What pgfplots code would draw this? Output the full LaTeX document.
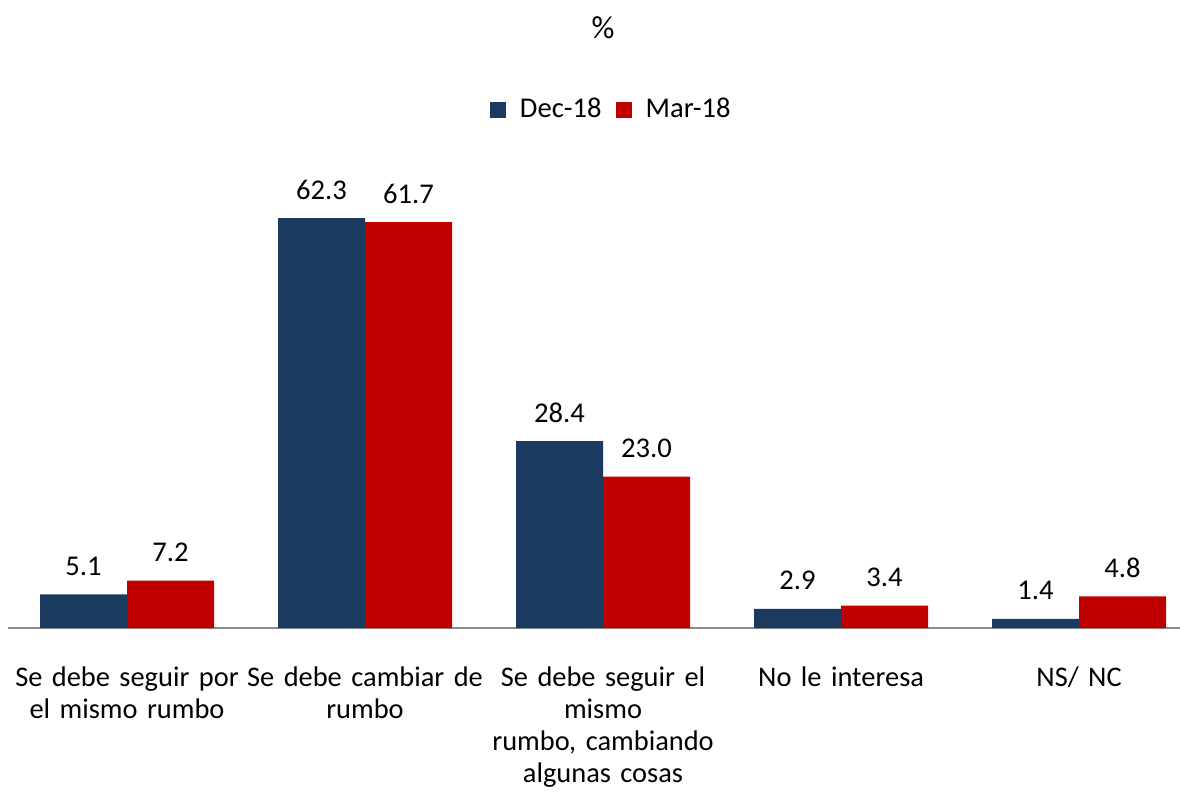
\documentclass[border=0pt]{standalone}
\usepackage{pgfplots}
\pgfplotsset{compat=1.18}
\usepackage{fontspec}
\setmainfont{Carlito}
\definecolor{decblue}{HTML}{1B3A5F}
\definecolor{marred}{HTML}{C00000}
\definecolor{axisgray}{HTML}{8C8C8C}
\begin{document}
\fontsize{14}{16}\selectfont
\begin{tikzpicture}
\useasboundingbox (-4pt,-85.5pt) rectangle (586pt,314pt);
\begin{axis}[
  scale only axis,
  width=586.7pt, height=230.3pt,
  xmin=-0.5, xmax=4.43,
  ymin=0, ymax=70,
  ybar=0pt, bar width=43.5pt,
  axis x line=bottom, axis y line=none,
  x axis line style={-, draw=axisgray, line width=1pt},
  xtick={0,1,2,3,4},
  xticklabels={{Se debe seguir por\\el mismo rumbo},{Se debe cambiar de\\rumbo},{Se debe seguir el\\mismo\\rumbo, cambiando\\algunas cosas},{No le interesa},{NS/ NC}},
  xticklabel style={text width=120pt, align=center, anchor=north, yshift=-14.5pt, font=\fontsize{14.2}{16}\selectfont},
  major tick length=0pt,
  nodes near coords,
  every node near coord/.append style={font=\fontsize{14.3}{16}\selectfont, color=black, yshift=4.5pt},
  nodes near coords style={/pgf/number format/.cd, fixed, fixed zerofill, precision=1},
  /pgf/number format/assume math mode=true,
  clip=false,
  legend columns=2,
  legend style={at={(0.515,1.125)}, anchor=center, draw=none, fill=none,
    font=\fontsize{14.3}{16}\selectfont, column sep=5pt},
  legend image code/.code={\fill[#1] (0pt,-4pt) rectangle (8pt,4pt);},
]
\addplot[fill=decblue, draw=none] coordinates {(0,5.1) (1,62.3) (2,28.4) (3,2.9) (4,1.4)};
\addplot[fill=marred, draw=none] coordinates {(0,7.2) (1,61.7) (2,23.0) (3,3.4) (4,4.8)};
\legend{Dec-18, Mar-18}
\end{axis}
\node[font=\fontsize{16}{18}\selectfont] at (297.5pt,300pt) {\%};
\end{tikzpicture}
\end{document}
